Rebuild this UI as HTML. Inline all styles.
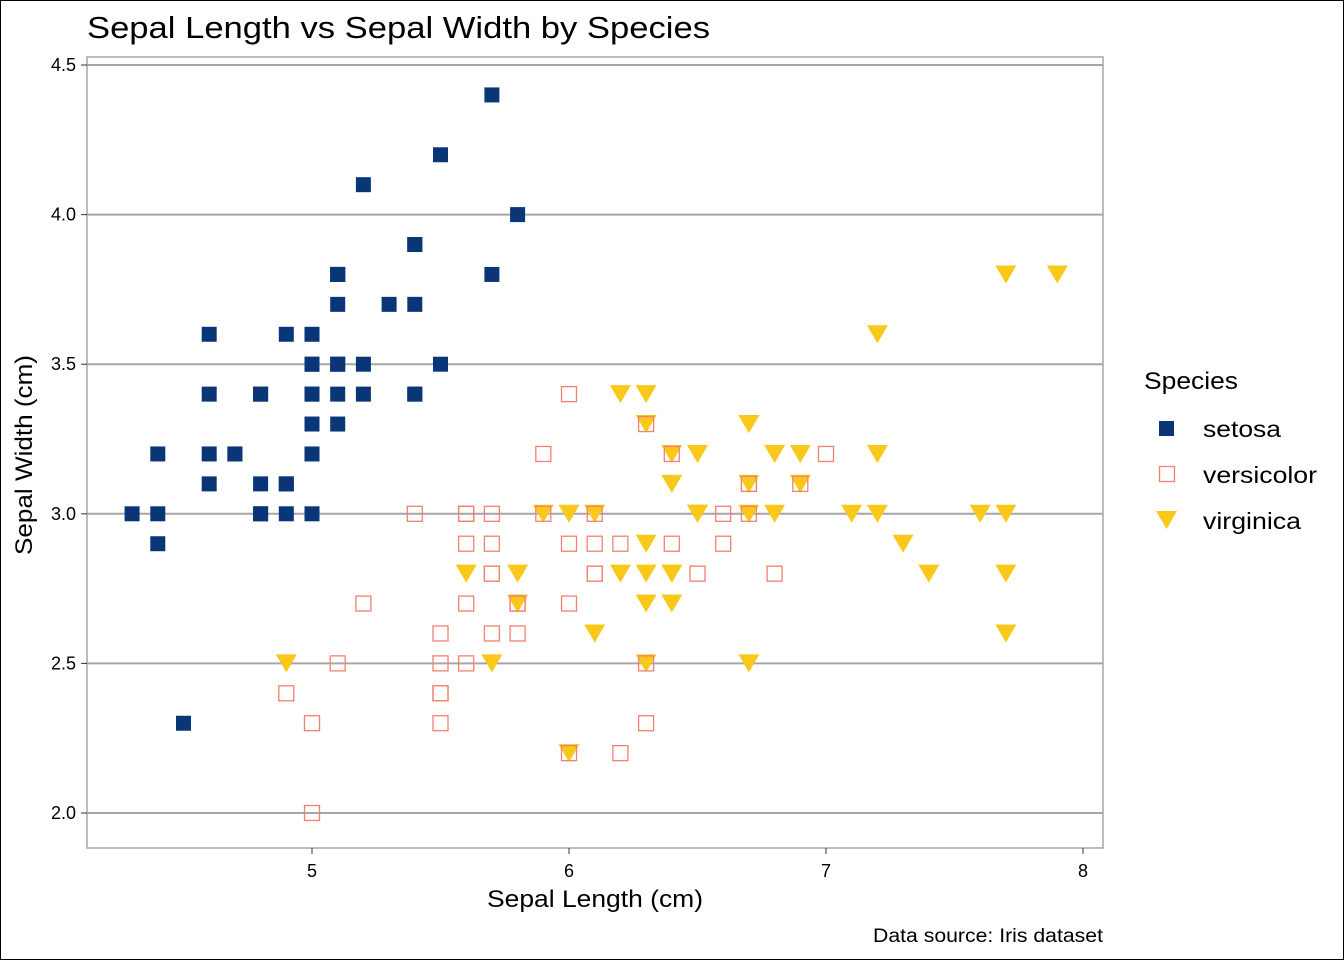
<!DOCTYPE html>
<html><head><meta charset="utf-8"><style>
body{margin:0;background:#fff}
svg{display:block;font-family:"Liberation Sans",Arial,sans-serif}
</style></head><body>
<svg id="chart" width="1344" height="960" viewBox="0 0 1344 960">
<rect x="0.5" y="0.5" width="1343" height="959" fill="#fff" stroke="#000"/>
<text x="87" y="38" font-size="31" textLength="623" lengthAdjust="spacingAndGlyphs" fill="#000">Sepal Length vs Sepal Width by Species</text>
<rect x="87" y="57" width="1016" height="791" fill="none" stroke="#a6a6a6" stroke-width="1.5"/>
<g id="grid"></g><g id="axes"></g><g id="points"></g>
<text x="487" y="907" font-size="24" textLength="216" lengthAdjust="spacingAndGlyphs">Sepal Length (cm)</text>
<text transform="translate(32,555) rotate(-90)" font-size="24" textLength="200" lengthAdjust="spacingAndGlyphs">Sepal Width (cm)</text>
<text x="873" y="942" font-size="19" textLength="230" lengthAdjust="spacingAndGlyphs">Data source: Iris dataset</text>
<text x="1144" y="389" font-size="24" textLength="94" lengthAdjust="spacingAndGlyphs">Species</text>
<g><rect x="1159" y="421" width="15" height="15" fill="#0a3677"/><text x="1203" y="437" font-size="23" textLength="78" lengthAdjust="spacingAndGlyphs">setosa</text></g>
<g><rect x="1159.5" y="466.5" width="15" height="15" fill="none" stroke="#f4806e" stroke-width="1.3"/><text x="1203" y="483" font-size="23" textLength="114" lengthAdjust="spacingAndGlyphs">versicolor</text></g>
<g><polygon points="1156,511 1177,511 1166.5,529" fill="#f9c818"/><text x="1203" y="529" font-size="23" textLength="98" lengthAdjust="spacingAndGlyphs">virginica</text></g>
</svg>
<script>
const xTicks=[5,6,7,8];
const yTicks=[2.0,2.5,3.0,3.5,4.0,4.5];
const setosaX=[5.1,4.9,4.7,4.6,5.0,5.4,4.6,5.0,4.4,4.9,5.4,4.8,4.8,4.3,5.8,5.7,5.4,5.1,5.7,5.1,5.4,5.1,4.6,5.1,4.8,5.0,5.0,5.2,5.2,4.7,4.8,5.4,5.2,5.5,4.9,5.0,5.5,4.9,4.4,5.1,5.0,4.5,4.4,5.0,5.1,4.8,5.1,4.6,5.3,5.0];
const setosaY=[3.5,3.0,3.2,3.1,3.6,3.9,3.4,3.4,2.9,3.1,3.7,3.4,3.0,3.0,4.0,4.4,3.9,3.5,3.8,3.8,3.4,3.7,3.6,3.3,3.4,3.0,3.4,3.5,3.4,3.2,3.1,3.4,4.1,4.2,3.1,3.2,3.5,3.6,3.0,3.4,3.5,2.3,3.2,3.5,3.8,3.0,3.8,3.2,3.7,3.3];
const versiX=[7.0,6.4,6.9,5.5,6.5,5.7,6.3,4.9,6.6,5.2,5.0,5.9,6.0,6.1,5.6,6.7,5.6,5.8,6.2,5.6,5.9,6.1,6.3,6.1,6.4,6.6,6.8,6.7,6.0,5.7,5.5,5.5,5.8,6.0,5.4,6.0,6.7,6.3,5.6,5.5,5.5,6.1,5.8,5.0,5.6,5.7,5.7,6.2,5.1,5.7];
const versiY=[3.2,3.2,3.1,2.3,2.8,2.8,3.3,2.4,2.9,2.7,2.0,3.0,2.2,2.9,2.9,3.1,3.0,2.7,2.2,2.5,3.2,2.8,2.5,2.8,2.9,3.0,2.8,3.0,2.9,2.6,2.4,2.4,2.7,2.7,3.0,3.4,3.1,2.3,3.0,2.5,2.6,3.0,2.6,2.3,2.7,3.0,2.9,2.9,2.5,2.8];
const virgX=[6.3,5.8,7.1,6.3,6.5,7.6,4.9,7.3,6.7,7.2,6.5,6.4,6.8,5.7,5.8,6.4,6.5,7.7,7.7,6.0,6.9,5.6,7.7,6.3,6.7,7.2,6.2,6.1,6.4,7.2,7.4,7.9,6.4,6.3,6.1,7.7,6.3,6.4,6.0,6.9,6.7,6.9,5.8,6.8,6.7,6.7,6.3,6.5,6.2,5.9];
const virgY=[3.3,2.7,3.0,2.9,3.0,3.0,2.5,2.9,2.5,3.6,3.2,2.7,3.0,2.5,2.8,3.2,3.0,3.8,2.6,2.2,3.2,2.8,2.8,2.7,3.3,3.2,2.8,3.0,2.8,3.0,2.8,3.8,2.8,2.8,2.6,3.0,3.4,3.1,3.0,3.1,3.1,3.1,2.7,3.2,3.3,3.0,2.5,3.0,3.4,3.0];
const NS="http://www.w3.org/2000/svg";
const sx=v=>312+(v-5)*257;
const sy=v=>813-(v-2)*299.2;
function mk(t,a,p){const e=document.createElementNS(NS,t);for(const k in a)e.setAttribute(k,a[k]);p.appendChild(e);return e;}
const grid=document.getElementById('grid'),axes=document.getElementById('axes'),pts=document.getElementById('points');
yTicks.forEach(v=>{
 const l=mk('line',{x1:87,x2:1103,y1:sy(v),y2:sy(v),stroke:'#a6a6a6','stroke-width':2},grid);
 
 
 mk('line',{x1:81,x2:87,y1:sy(v),y2:sy(v),stroke:'#333'},axes);
 const t=mk('text',{x:76,y:sy(v)+6,'font-size':18,'text-anchor':'end'},axes);t.textContent=v.toFixed(1);
 
 
});
xTicks.forEach(v=>{
 mk('line',{x1:sx(v),x2:sx(v),y1:848,y2:854,stroke:'#333'},axes);
 const t=mk('text',{x:sx(v),y:877,'font-size':18,'text-anchor':'middle'},axes);t.textContent=v;
 
 
});
virgX.forEach((x,i)=>{
 const cx=sx(x),cy=sy(virgY[i]);
 const e=mk('polygon',{points:`${cx-10.5},${cy-9} ${cx+10.5},${cy-9} ${cx},${cy+9}`,fill:'#f9c818'},pts);
 
 
});
versiX.forEach((x,i)=>{
 const e=mk('rect',{x:sx(x)-7.5,y:sy(versiY[i])-7.5,width:15,height:15,fill:'none',stroke:'#f4806e','stroke-width':1.3},pts);
 
 
});
setosaX.forEach((x,i)=>{
 const e=mk('rect',{x:sx(x)-7.5,y:sy(setosaY[i])-7.5,width:15,height:15,fill:'#0a3677'},pts);
 
 
});
</script>
</body></html>
